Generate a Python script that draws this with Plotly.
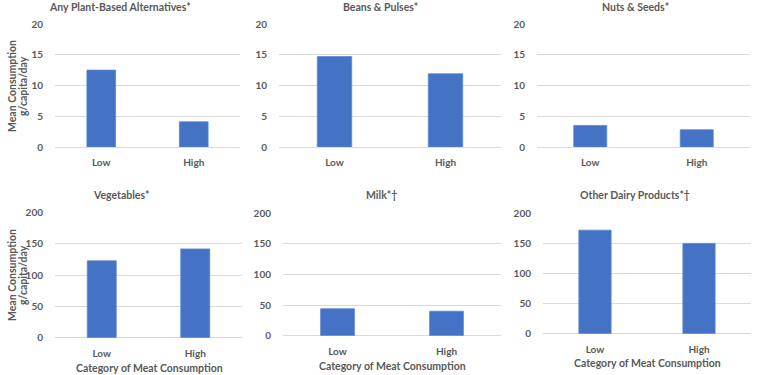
import plotly.graph_objects as go

W, H = 758, 375

categories = ["Low", "High"]
titles = ["Any Plant-Based Alternatives*", "Beans & Pulses*", "Nuts & Seeds*",
          "Vegetables*", "Milk*\u2020", "Other Dairy Products*\u2020"]
values = {
    "Any Plant-Based Alternatives*": [12.5, 4.1],
    "Beans & Pulses*": [14.7, 11.9],
    "Nuts & Seeds*": [3.5, 2.8],
    "Vegetables*": [123, 142],
    "Milk*\u2020": [44, 40],
    "Other Dairy Products*\u2020": [172, 150],
}
y_ranges = [[0, 20], [0, 20], [0, 20], [0, 200], [0, 200], [0, 200]]
y_ticks = [[0, 5, 10, 15, 20]] * 3 + [[0, 50, 100, 150, 200]] * 3
y_title_lines = ["Mean Consumption", "g/capita/day"]
x_title = "Category of Meat Consumption"

# layout in pixels: (x0, x1, y_bottom(0), y_top(max))
boxes = [
    (55, 240, 147, 24),
    (279, 501, 147, 24),
    (537, 750, 147, 24),
    (55, 242, 337.7, 212.7),
    (283, 501, 335.7, 213.3),
    (543, 751, 333.7, 213.3),
]
title_pos = [(120, 7), (380, 7), (635, 7), (121, 195), (381, 195), (635, 195)]
xtitle_pos = [(149, 368), (392, 366), (647, 363)]

BAR = "#4472C4"
TXT = "#595959"
GRID = "#D9D9D9"
FONT = "Lato"

def px(x):
    return x / W

def py(y):
    return 1 - y / H

fig = go.Figure()
annotations = []
for i, t in enumerate(titles):
    n = i + 1
    xa = "x" if n == 1 else f"x{n}"
    ya = "y" if n == 1 else f"y{n}"
    fig.add_trace(go.Bar(
        x=categories, y=values[t], xaxis=xa, yaxis=ya,
        marker=dict(color=BAR, line=dict(color="#5B86D0", width=0.8)),
        width=0.31, showlegend=False, hoverinfo="x+y",
    ))
    x0, x1, yb, yt = boxes[i]
    fig.layout[f"xaxis{'' if n == 1 else n}"] = dict(
        domain=[px(x0), px(x1)], anchor=ya, showgrid=False, automargin=False,
        showline=False, zeroline=False,
        ticks="outside", ticklen=6, tickcolor="rgba(0,0,0,0)",
        tickfont=dict(family=FONT, size=10, color=TXT, weight="bold"),
        fixedrange=True,
    )
    fig.layout[f"yaxis{'' if n == 1 else n}"] = dict(
        domain=[py(yb), py(yt)], anchor=xa, range=y_ranges[i], automargin=False,
        tickvals=y_ticks[i], showgrid=True, gridcolor=GRID, gridwidth=1,
        zeroline=True, zerolinecolor=GRID, zerolinewidth=1, showline=False,
        ticks="outside", ticklen=9, tickcolor="rgba(0,0,0,0)",
        tickfont=dict(family=FONT, size=10, color=TXT, weight="bold"),
        fixedrange=True,
    )
    tx, ty = title_pos[i]
    annotations.append(dict(
        text=t, x=px(tx), y=py(ty), xref="paper", yref="paper",
        xanchor="center", yanchor="middle", showarrow=False,
        font=dict(family=FONT, size=10.5, color=TXT, weight="bold"),
    ))

for (tx, ty) in xtitle_pos:
    annotations.append(dict(
        text=x_title, x=px(tx), y=py(ty), xref="paper", yref="paper",
        xanchor="center", yanchor="middle", showarrow=False,
        font=dict(family=FONT, size=10.5, color=TXT, weight="bold"),
    ))

for cy in (86, 275):
    for lx, line in zip((12, 23), y_title_lines):
        annotations.append(dict(
            text=line, x=px(lx), y=py(cy), xref="paper", yref="paper",
            xanchor="center", yanchor="middle", showarrow=False, textangle=-90,
            font=dict(family=FONT, size=10.5, color=TXT, weight="bold"),
        ))

fig.update_layout(
    width=W, height=H, margin=dict(l=0, r=0, t=0, b=0, autoexpand=False),
    paper_bgcolor="white", plot_bgcolor="white",
    annotations=annotations, bargap=0.69,
)

fig.write_html(
    "out.html",
    config={"displayModeBar": False},
    post_script="document.body.style.margin='0px';document.body.style.overflow='hidden';",
)
